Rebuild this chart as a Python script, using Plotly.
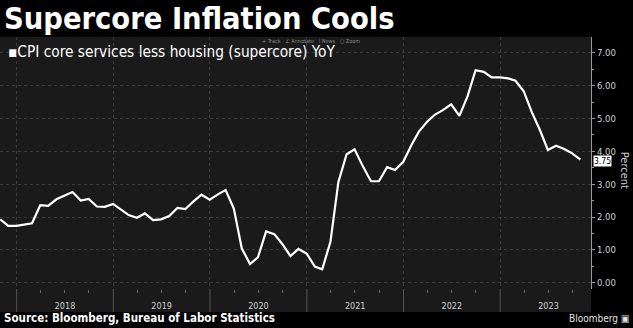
import pandas as pd
import plotly.graph_objects as go

series_name = "CPI core services less housing (supercore) YoY"
months = [
    "2017-10", "2017-11", "2017-12",
    "2018-01", "2018-02", "2018-03", "2018-04", "2018-05", "2018-06",
    "2018-07", "2018-08", "2018-09", "2018-10", "2018-11", "2018-12",
    "2019-01", "2019-02", "2019-03", "2019-04", "2019-05", "2019-06",
    "2019-07", "2019-08", "2019-09", "2019-10", "2019-11", "2019-12",
    "2020-01", "2020-02", "2020-03", "2020-04", "2020-05", "2020-06",
    "2020-07", "2020-08", "2020-09", "2020-10", "2020-11", "2020-12",
    "2021-01", "2021-02", "2021-03", "2021-04", "2021-05", "2021-06",
    "2021-07", "2021-08", "2021-09", "2021-10", "2021-11", "2021-12",
    "2022-01", "2022-02", "2022-03", "2022-04", "2022-05", "2022-06",
    "2022-07", "2022-08", "2022-09", "2022-10", "2022-11", "2022-12",
    "2023-01", "2023-02", "2023-03", "2023-04", "2023-05", "2023-06",
    "2023-07", "2023-08", "2023-09", "2023-10",
]
values = [
    1.93, 1.73, 1.73,
    1.78, 1.81, 2.36, 2.34, 2.54, 2.65,
    2.76, 2.50, 2.55, 2.32, 2.31, 2.40,
    2.23, 2.06, 1.98, 2.11, 1.91, 1.93,
    2.03, 2.28, 2.24, 2.48, 2.68, 2.53,
    2.69, 2.82, 2.26, 1.05, 0.57, 0.77,
    1.56, 1.48, 1.18, 0.81, 1.03, 0.89,
    0.49, 0.41, 1.25, 3.07, 3.91, 4.06,
    3.55, 3.09, 3.09, 3.52, 3.43, 3.68,
    4.19, 4.60, 4.90, 5.12, 5.26, 5.43,
    5.08, 5.68, 6.47, 6.42, 6.25, 6.25,
    6.22, 6.15, 5.83, 5.20, 4.65, 4.04,
    4.17, 4.07, 3.94, 3.75,
]
years = ["2018", "2019", "2020", "2021", "2022", "2023"]
y_ticks = [0, 1, 2, 3, 4, 5, 6, 7]
title = "Supercore Inflation Cools"
source = "Source: Bloomberg, Bureau of Labor Statistics"

# monthly observations are plotted at month end
dates = [pd.Period(m, freq="M").end_time.normalize() for m in months]

FONT = "DejaVu Sans Condensed, DejaVu Sans, sans-serif"
PLOT_BG = "#1a1a1a"
GRID = "#3a3a3a"
TXT = "#cfcfcf"
BAND = -23 / 252  # height of the date band under the plot, in paper units

fig = go.Figure()
fig.add_trace(go.Scatter(
    x=dates, y=values, mode="lines", name=series_name,
    line=dict(color="#ffffff", width=2.2), showlegend=False,
    hoverinfo="skip",
))

shapes = [
    dict(type="rect", xref="paper", yref="paper",
         x0=0, x1=1, y0=BAND, y1=0,
         fillcolor=PLOT_BG, line=dict(width=0), layer="below"),
]
for yr in years:
    shapes.append(dict(type="line", xref="x", yref="paper",
                       x0=f"{yr}-01-01", x1=f"{yr}-01-01", y0=BAND, y1=0,
                       line=dict(color="#555555", width=1)))

fig.update_layout(
    width=633, height=328,
    margin=dict(l=0, r=42, t=37, b=39),
    paper_bgcolor="#000000",
    plot_bgcolor=PLOT_BG,
    font=dict(family=FONT, color=TXT, size=9),
    xaxis=dict(
        range=["2017-10-30", "2023-12-10"],
        tick0=f"{years[0]}-01-01", dtick="M12",
        ticklabelmode="period", tickformat="%Y",
        ticks="", showline=False, ticklabelstandoff=10,
        showgrid=True, gridcolor=GRID, griddash="dot", gridwidth=1,
        zeroline=False,
        tickfont=dict(family=FONT, size=9, color=TXT),
        minor=dict(dtick="M3", tick0=f"{years[0]}-01-01", ticks="outside",
                   ticklen=3, tickcolor="#6a6a6a", tickwidth=1, showgrid=False),
        fixedrange=True,
    ),
    yaxis=dict(
        side="right",
        range=[-0.19, 7.48],
        tickvals=y_ticks, tickformat=".2f",
        ticks="outside", ticklen=3, tickcolor="#9a9a9a",
        showline=True, linecolor="#9a9a9a", linewidth=1,
        showgrid=True, gridcolor=GRID, griddash="dot", gridwidth=1,
        zeroline=False,
        tickfont=dict(family=FONT, size=9.5, color=TXT),
        minor=dict(dtick=0.5, tick0=0, ticks="outside", ticklen=2,
                   tickcolor="#9a9a9a", showgrid=False),
        fixedrange=True,
    ),
    shapes=shapes,
)

anns = [
    dict(text=f"<b>{title}</b>", xref="paper", yref="paper",
         x=0.004, y=1.075, xanchor="left", yanchor="middle",
         showarrow=False, font=dict(family=FONT, size=30.5, color="#ffffff")),
    dict(text="▪" + series_name, xref="paper", yref="paper",
         x=0.01, y=0.94, xanchor="left", yanchor="middle",
         showarrow=False, font=dict(family=FONT, size=15.3, color="#ffffff")),
    dict(text="+ Track   ∠ Annotate   ⁞ News   ○ Zoom", xref="paper", yref="paper",
         x=0.44, y=0.985, xanchor="left", yanchor="middle",
         showarrow=False, font=dict(family=FONT, size=5.5, color="#8a8a8a")),
    dict(text=f"<b>{source}</b>", xref="paper", yref="paper",
         x=0.004, y=-0.117, xanchor="left", yanchor="middle",
         showarrow=False, font=dict(family=FONT, size=11.5, color="#ffffff")),
    dict(text="Bloomberg ▣", xref="paper", yref="paper",
         x=1.068, y=-0.117, xanchor="right", yanchor="middle",
         showarrow=False, font=dict(family=FONT, size=10, color="#e0e0e0")),
    dict(text="Percent", xref="paper", yref="paper",
         x=1.058, y=0.472, xanchor="center", yanchor="middle",
         textangle=90, showarrow=False,
         font=dict(family=FONT, size=11, color=TXT)),
    dict(text=f"{values[-1]:.2f}", xref="paper", yref="y",
         x=1.0, y=values[-1], xanchor="left", yanchor="middle",
         xshift=2, yshift=-1,
         showarrow=False, bgcolor="#ffffff", borderpad=0,
         font=dict(family=FONT, size=8.5, color="#000000")),
]
fig.update_layout(annotations=anns)

fig.write_html("out.html")
